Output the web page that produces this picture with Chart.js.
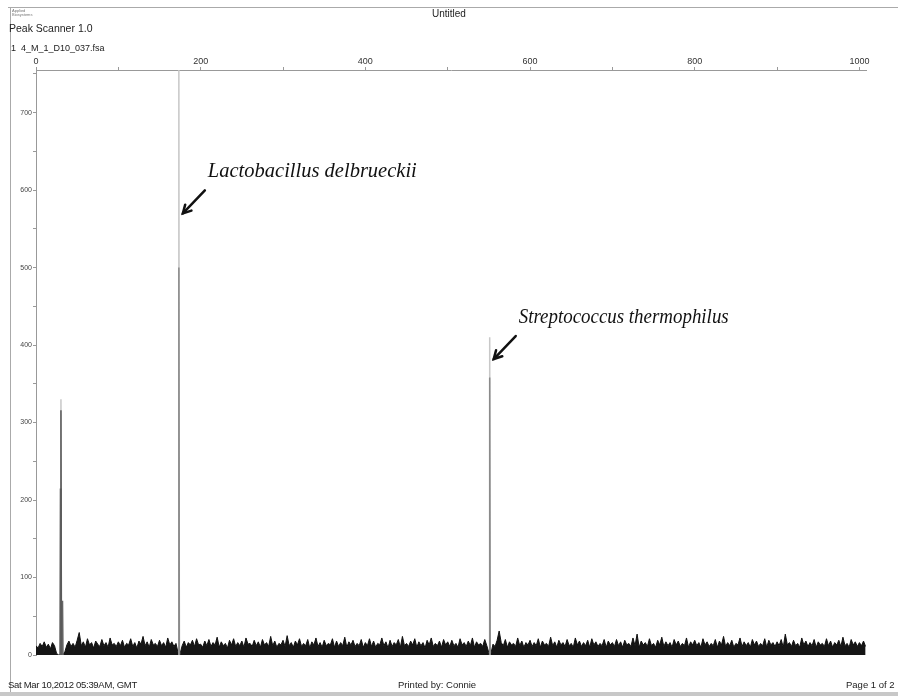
<!DOCTYPE html>
<html>
<head>
<meta charset="utf-8">
<script src="https://cdn.jsdelivr.net/npm/chart.js@4.4.1/dist/chart.umd.min.js"></script>
<style>
  body { margin: 0; background: #fff; }
  #page { position: relative; width: 898px; height: 696px; overflow: hidden; font-family: "Liberation Sans", Arial, sans-serif; color: #222; }
  #page canvas { position: absolute; left: 0; top: 0; }
  .txt { position: absolute; white-space: nowrap; }
  #frameTop { position: absolute; left: 8px; top: 7px; width: 890px; height: 0; border-top: 1px solid #aaa; }
  #frameLeft { position: absolute; left: 10px; top: 7px; width: 0; height: 685px; border-left: 1px solid #aaa; }
  #frameBottom { position: absolute; left: 0; top: 692px; width: 898px; height: 4px; background: #c8c8c8; }
</style>
</head>
<body>
<div id="page">
  <canvas id="trace" width="898" height="696"></canvas>
  <div id="frameTop"></div>
  <div id="frameLeft"></div>
  <div id="frameBottom"></div>
  <div class="txt" style="left:12px; top:9px; font-size:4px; line-height:4px; color:#777;">Applied<br>Biosystems</div>
  <div class="txt" style="left:432px; top:8px; font-size:10px;">Untitled</div>
  <div class="txt" style="left:9px; top:22px; font-size:10.5px;">Peak Scanner 1.0</div>
  <div class="txt" style="left:11px; top:43px; font-size:9px;">1&nbsp; 4_M_1_D10_037.fsa</div>
  <div class="txt" style="left:8px; top:679px; font-size:9.5px; letter-spacing:-0.3px;">Sat Mar 10,2012 05:39AM, GMT</div>
  <div class="txt" style="left:398px; top:679px; font-size:9.5px;">Printed by: Connie</div>
  <div class="txt" style="left:846px; top:679px; font-size:9.5px;">Page 1 of 2</div>
</div>
<script>
// baseline noise, one reading every 2.5 size units starting at 0 (40 per row = 100 units)
const noiseStep = 2.5;
const noiseValues = [
  12,9,15,11,17,10,14,8,16,12,2,0,1,0,4,13,18,11,15,10,19,29,12,17,10,21,13,16,9,18,14,11,20,12,16,10,22,13,15,11,
  17,12,19,10,15,13,21,11,16,9,18,14,24,12,17,10,20,13,15,11,19,12,16,10,22,13,17,11,15,3,2,12,18,10,16,13,19,11,21,13,
  14,10,18,12,20,11,16,13,23,10,17,12,15,9,19,13,21,11,16,12,18,10,22,14,15,11,19,12,17,10,20,13,16,11,24,12,18,10,15,13,
  19,11,25,12,16,10,18,13,21,11,15,12,20,9,17,13,22,11,16,10,19,12,15,13,21,10,18,11,16,12,23,10,17,13,19,11,15,12,20,10,
  16,12,21,11,18,10,15,13,22,12,17,9,19,11,16,13,20,10,24,12,15,11,18,13,21,10,17,12,16,9,19,13,22,11,15,12,18,10,20,13,
  17,11,19,12,15,10,21,13,16,11,18,12,22,10,17,13,15,11,20,12,3,2,14,11,19,31,16,12,20,10,17,13,15,11,22,12,18,10,16,13,
  19,11,16,12,21,10,18,13,15,11,23,12,17,10,19,13,16,11,20,12,15,10,22,13,18,11,16,12,19,10,21,13,17,11,15,12,20,10,18,13,
  16,11,20,12,17,10,19,13,15,11,22,12,27,10,18,13,16,11,21,12,15,10,19,13,23,11,17,12,16,10,20,13,18,11,15,12,22,10,17,13,
  19,12,16,10,21,13,17,11,15,12,20,10,18,13,24,11,16,12,19,10,15,13,22,11,17,12,16,10,20,13,18,11,15,12,21,10,19,13,16,11,
  17,12,20,10,27,13,16,11,19,12,15,10,22,13,18,11,16,12,20,10,17,13,15,11,21,12,18,10,16,13,19,11,23,12,15,10,20,13,17,11,
  16,12,18,11
];

// main peaks: size, light trace height, dark trace height
const peakSizes = [30.3, 173.5, 551];
const peakLight = [330, 755, 410];
const peakDark = [316, 500, 358];

// shoulders beside the first peak
const shoulderSizes = [29.7, 32.2];
const shoulderHeights = [215, 70];

// species labels with the height their arrows point at
const speciesNames = ['Lactobacillus delbrueckii', 'Streptococcus thermophilus'];
const speciesSizes = [173.5, 551];
const speciesArrowAt = [570, 382];

// axis ticks
const xTickValues = [0, 100, 200, 300, 400, 500, 600, 700, 800, 900, 1000];
const xTickLabels = ['0', '', '200', '', '400', '', '600', '', '800', '', '1000'];
const yTickValues = [0, 50, 100, 150, 200, 250, 300, 350, 400, 450, 500, 550, 600, 650, 700, 750];
const yTickLabels = ['0', '', '100', '', '200', '', '300', '', '400', '', '500', '', '600', '', '700', ''];

const xMin = 0, xMax = 1008;
const yMin = 0, yMax = 755;

const noisePoints = noiseValues.map((v, i) => ({ x: i * noiseStep, y: v }));

function spike(x, h) {
    return [{ x: x - 0.6, y: 0 }, { x: x, y: h }, { x: x + 0.6, y: 0 }];
}

function spikeSet(x, h, color, order) {
    return {
        data: spike(x, h),
        borderColor: color,
        borderWidth: 1.5,
        pointRadius: 0,
        fill: false,
        tension: 0,
        order: order
    };
}

const datasets = [];
peakSizes.forEach((x, i) => {
    datasets.push(spikeSet(x, peakDark[i], i === 0 ? '#5a5a5a' : '#8a8a8a', 0));
    datasets.push(spikeSet(x, peakLight[i], '#c8c8c8', 1));
});
shoulderSizes.forEach((x, i) => {
    datasets.push(spikeSet(x, shoulderHeights[i], '#666', 0));
});
datasets.push({
    data: noisePoints,
    borderColor: '#111',
    backgroundColor: '#151515',
    borderWidth: 1,
    pointRadius: 0,
    fill: 'origin',
    tension: 0,
    order: 2
});

// italic species names with a pointing arrow
const speciesLabels = {
    id: 'speciesLabels',
    afterDatasetsDraw(chart) {
        const ctx = chart.ctx;
        const xs = chart.scales.x, ys = chart.scales.y;
        ctx.save();
        speciesNames.forEach((name, i) => {
            const px = xs.getPixelForValue(speciesSizes[i]);
            const py = ys.getPixelForValue(speciesArrowAt[i]);
            const tipX = px + 4, tipY = py;
            const tailX = px + 26, tailY = py - 23;

            ctx.strokeStyle = '#111';
            ctx.lineWidth = 2.5;
            ctx.lineCap = 'round';
            ctx.beginPath();
            ctx.moveTo(tailX, tailY);
            ctx.lineTo(tipX, tipY);
            ctx.stroke();
            // arrow head
            const ang = Math.atan2(tipY - tailY, tipX - tailX);
            const len = 9;
            ctx.beginPath();
            ctx.moveTo(tipX - len * Math.cos(ang - 0.5), tipY - len * Math.sin(ang - 0.5));
            ctx.lineTo(tipX, tipY);
            ctx.lineTo(tipX - len * Math.cos(ang + 0.5), tipY - len * Math.sin(ang + 0.5));
            ctx.stroke();

            ctx.fillStyle = '#111';
            ctx.font = 'italic 20.5px "Liberation Serif", serif';
            ctx.textBaseline = 'alphabetic';
            ctx.textAlign = 'left';
            ctx.fillText(name, px + 29, py - 36, 210);
        });
        ctx.restore();
    }
};

new Chart(document.getElementById('trace'), {
    type: 'line',
    data: { datasets: datasets },
    options: {
        responsive: false,
        animation: false,
        events: [],
        layout: { padding: { left: 10, right: 32, top: 0, bottom: 41 } },
        plugins: {
            legend: { display: false },
            tooltip: { enabled: false }
        },
        scales: {
            x: {
                type: 'linear',
                position: 'top',
                min: xMin,
                max: xMax,
                afterFit: s => { s.height = 70; },
                afterBuildTicks: s => { s.ticks = xTickValues.map(v => ({ value: v })); },
                ticks: {
                    autoSkip: false,
                    maxRotation: 0,
                    padding: 0,
                    color: '#333',
                    font: { family: 'Liberation Sans', size: 9 },
                    callback: (v, i) => xTickLabels[i]
                },
                grid: { drawOnChartArea: false, tickLength: 3, color: '#999' },
                border: { display: true, color: '#999', width: 1 }
            },
            y: {
                type: 'linear',
                min: yMin,
                max: yMax,
                afterFit: s => { s.width = 26; },
                afterBuildTicks: s => { s.ticks = yTickValues.map(v => ({ value: v })); },
                ticks: {
                    autoSkip: false,
                    padding: 1,
                    color: '#444',
                    font: { family: 'Liberation Sans', size: 7 },
                    callback: (v, i) => yTickLabels[i]
                },
                grid: { drawOnChartArea: false, tickLength: 3, color: '#999' },
                border: { display: true, color: '#999', width: 1 }
            }
        }
    },
    plugins: [speciesLabels]
});
</script>
</body>
</html>
